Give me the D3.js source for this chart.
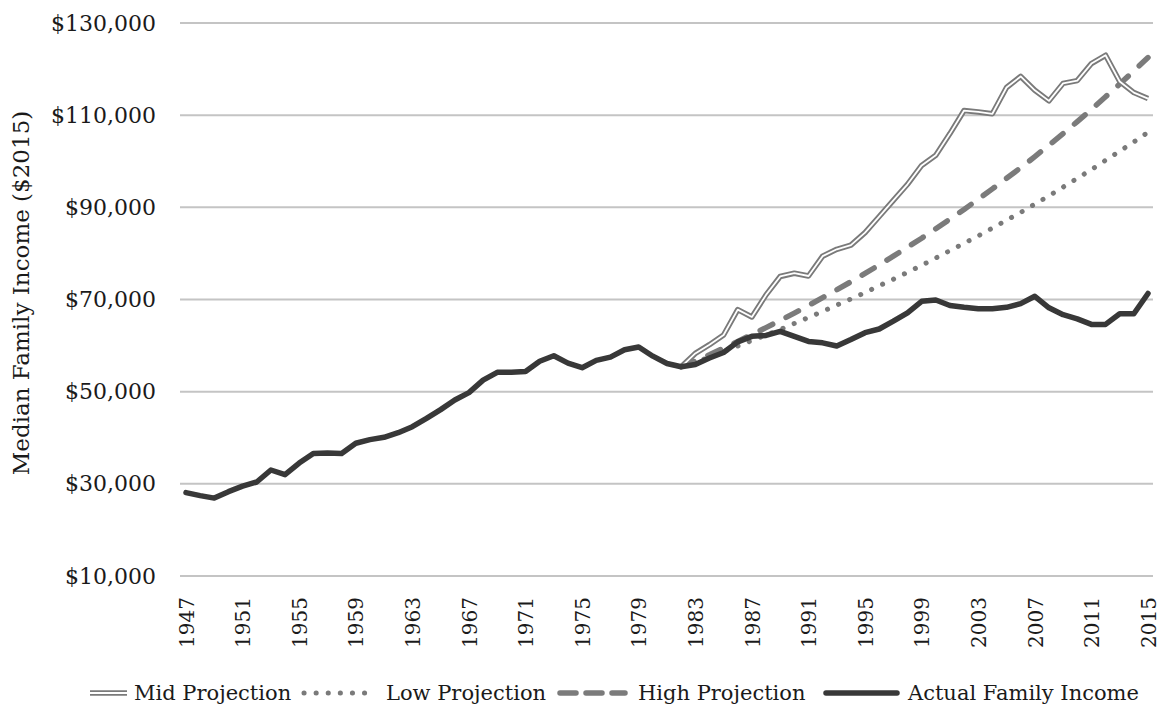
<!DOCTYPE html>
<html>
<head>
<meta charset="utf-8">
<script src="https://cdn.jsdelivr.net/npm/d3@7"></script>
<style>
  body { margin: 0; background: #fff; }
  text { font-family: "DejaVu Serif", "Liberation Serif", serif; fill: #1a1a1a; }
</style>
</head>
<body>
<div id="graphic"></div>
<script>
var width = 1172,
    height = 713;

// categories
var years = [1947, 1948, 1949, 1950, 1951, 1952, 1953, 1954, 1955, 1956, 1957, 1958,
  1959, 1960, 1961, 1962, 1963, 1964, 1965, 1966, 1967, 1968, 1969, 1970, 1971,
  1972, 1973, 1974, 1975, 1976, 1977, 1978, 1979, 1980, 1981, 1982, 1983, 1984,
  1985, 1986, 1987, 1988, 1989, 1990, 1991, 1992, 1993, 1994, 1995, 1996, 1997,
  1998, 1999, 2000, 2001, 2002, 2003, 2004, 2005, 2006, 2007, 2008, 2009, 2010,
  2011, 2012, 2013, 2014, 2015];

// actual median family income, 1947-2015
var actual = [28100, 27450, 26900, 28300, 29500, 30400, 33000, 32000, 34500, 36600,
  36700, 36600, 38800, 39600, 40100, 41100, 42400, 44200, 46100, 48200, 49800,
  52500, 54200, 54200, 54400, 56600, 57800, 56200, 55200, 56800, 57500, 59100,
  59700, 57700, 56100, 55400, 55900, 57300, 58500, 60800, 62000, 62200, 63100,
  62000, 60900, 60600, 59900, 61300, 62800, 63600, 65300, 67100, 69600, 69900,
  68700, 68300, 68000, 68000, 68300, 69100, 70700, 68200, 66700, 65800, 64600,
  64600, 66900, 66900, 71300];

// projections start in 1982 (index 35 of years)
var projYears = years.slice(35);
var mid = [55400, 58300, 60200, 62300, 67800, 66200, 71000, 75000, 75700, 75100,
  79400, 80900, 81800, 84500, 88000, 91500, 95000, 99100, 101300, 106000, 111000,
  110700, 110300, 116000, 118400, 115400, 113100, 116900, 117500, 121200, 123000,
  117300, 114900, 113600];
var low = [55400, 56400, 57500, 58700, 59900, 61100, 62300, 63500, 64800, 66100,
  67400, 68800, 70100, 71500, 73000, 74400, 75900, 77400, 79000, 80600, 82200,
  83800, 85500, 87200, 88900, 90700, 92500, 94400, 96300, 98200, 100200, 102200,
  104200, 106300];
var high = [55400, 56650, 58000, 59450, 60900, 62400, 63900, 65450, 67050, 68700,
  70400, 72100, 73850, 75650, 77500, 79400, 81350, 83300, 85350, 87450, 89550,
  91750, 94000, 96300, 98600, 101000, 103500, 106000, 108600, 111250, 114000,
  116750, 119600, 122500];

var yTicks = [10000, 30000, 50000, 70000, 90000, 110000, 130000];
var xTicks = [1947, 1951, 1955, 1959, 1963, 1967, 1971, 1975, 1979, 1983, 1987,
  1991, 1995, 1999, 2003, 2007, 2011, 2015];

var seriesNames = ["Mid Projection", "Low Projection", "High Projection", "Actual Family Income"];

var svg = d3.select("#graphic")
    .append("svg")
    .attr("width", width)
    .attr("height", height);

var x = d3.scaleLinear()
    .domain([1947, 2015])
    .range([186, 1148]);

var y = d3.scaleLinear()
    .domain([10000, 130000])
    .range([576, 23]);

// gridlines
svg.append("g")
    .attr("class", "grid")
    .selectAll("line")
    .data(yTicks)
    .enter().append("line")
    .attr("x1", x(1947) - 6)
    .attr("x2", x(2015) + 5)
    .attr("y1", d => y(d))
    .attr("y2", d => y(d))
    .attr("stroke", "#c4c4c4")
    .attr("stroke-width", 2);

// y axis
var yAxis = svg.append("g")
    .attr("transform", "translate(156,0)")
    .call(d3.axisLeft(y)
      .tickValues(yTicks)
      .tickSize(0)
      .tickPadding(0)
      .tickFormat(d => "$" + d3.format(",")(d)));
yAxis.select(".domain").remove();
yAxis.selectAll("text")
    .style("font-size", "22px")
    .attr("fill", "#1a1a1a");

// x axis
var xAxis = svg.append("g")
    .attr("transform", "translate(0,597)")
    .call(d3.axisBottom(x)
      .tickValues(xTicks)
      .tickSize(0)
      .tickFormat(d3.format("d")));
xAxis.select(".domain").remove();
xAxis.selectAll("text")
    .style("font-size", "20px")
    .attr("fill", "#1a1a1a")
    .attr("text-anchor", "end")
    .attr("transform", "rotate(-90)")
    .attr("x", 0)
    .attr("y", 0)
    .attr("dy", "0.36em");

svg.append("text")
    .attr("transform", "translate(29,293) rotate(-90)")
    .attr("text-anchor", "middle")
    .style("font-size", "23px")
    .text("Median Family Income ($2015)");

var line = d3.line()
    .x(d => x(d[0]))
    .y(d => y(d[1]));

var plot = svg.append("g").attr("fill", "none");

// low projection, dotted
plot.append("path")
    .datum(d3.zip(projYears, low))
    .attr("d", line)
    .attr("stroke", "#7a7a7a")
    .attr("stroke-width", 5)
    .attr("stroke-linecap", "round")
    .attr("stroke-dasharray", "0.1 12");

// high projection, dashed
plot.append("path")
    .datum(d3.zip(projYears, high))
    .attr("d", line)
    .attr("stroke", "#7b7b7b")
    .attr("stroke-width", 5.5)
    .attr("stroke-linecap", "round")
    .attr("stroke-dasharray", "14 15");

// mid projection, double line
plot.append("path")
    .datum(d3.zip(projYears, mid))
    .attr("d", line)
    .attr("stroke", "#7a7a7a")
    .attr("stroke-width", 5.5)
    .attr("stroke-linejoin", "round");
plot.append("path")
    .datum(d3.zip(projYears, mid))
    .attr("d", line)
    .attr("stroke", "#fff")
    .attr("stroke-width", 1.8)
    .attr("stroke-linejoin", "round");

// actual
plot.append("path")
    .datum(d3.zip(years, actual))
    .attr("d", line)
    .attr("stroke", "#383838")
    .attr("stroke-width", 5.5)
    .attr("stroke-linejoin", "round")
    .attr("stroke-linecap", "round");

// legend
var legendY = 693;
var legendSym = [[90, 127], [302, 374], [557, 628], [823, 900]];
var legendText = [134, 386, 638, 908];

var legend = svg.append("g").attr("class", "legend");

legend.append("line")
    .attr("x1", legendSym[0][0]).attr("x2", legendSym[0][1])
    .attr("y1", legendY).attr("y2", legendY)
    .attr("stroke", "#7a7a7a").attr("stroke-width", 5.5);
legend.append("line")
    .attr("x1", legendSym[0][0]).attr("x2", legendSym[0][1])
    .attr("y1", legendY).attr("y2", legendY)
    .attr("stroke", "#fff").attr("stroke-width", 1.8);

legend.append("line")
    .attr("x1", legendSym[1][0] + 2).attr("x2", legendSym[1][1])
    .attr("y1", legendY).attr("y2", legendY)
    .attr("stroke", "#7a7a7a").attr("stroke-width", 5)
    .attr("stroke-linecap", "round")
    .attr("stroke-dasharray", "0.1 12");

legend.append("line")
    .attr("x1", legendSym[2][0] + 3).attr("x2", legendSym[2][1] - 3)
    .attr("y1", legendY).attr("y2", legendY)
    .attr("stroke", "#7b7b7b").attr("stroke-width", 5.5)
    .attr("stroke-linecap", "round")
    .attr("stroke-dasharray", "16 10");

legend.append("line")
    .attr("x1", legendSym[3][0] + 3).attr("x2", legendSym[3][1] - 3)
    .attr("y1", legendY).attr("y2", legendY)
    .attr("stroke", "#383838").attr("stroke-width", 5.5)
    .attr("stroke-linecap", "round");

legend.selectAll("text")
    .data(seriesNames)
    .enter().append("text")
    .attr("x", (d, i) => legendText[i])
    .attr("y", legendY)
    .attr("dy", "0.35em")
    .style("font-size", "21px")
    .text(d => d);
</script>
</body>
</html>
